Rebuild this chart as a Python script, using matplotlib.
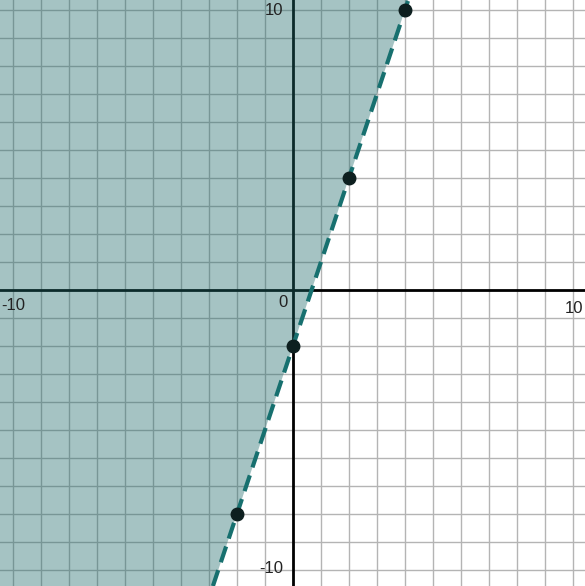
import numpy as np
import matplotlib.pyplot as plt

# points on the boundary line y = 3x - 2
pts_x = [-2, 0, 2, 4]
pts_y = [-8, -2, 4, 10]
slope = 3
intercept = -2

xmin, xmax = -10.46, 10.43
ymin, ymax = -10.57, 10.36

plt.rcParams['font.family'] = ['Liberation Sans', 'DejaVu Sans']

fig = plt.figure(figsize=(5.85, 5.86), dpi=100)
ax = fig.add_axes([0, 0, 1, 1])
ax.set_xlim(xmin, xmax)
ax.set_ylim(ymin, ymax)

# grid
for v in range(-10, 11):
    ax.axvline(v, color='#b4b4b4', lw=1, zorder=1)
    ax.axhline(v, color='#b4b4b4', lw=1, zorder=1)
ax.axhline(0, color='black', lw=2, zorder=2)
ax.axvline(0, color='black', lw=2, zorder=2)

# shaded half-plane y > 3x - 2
yy = np.array([ymin, ymax])
ax.fill_betweenx(yy, xmin, (yy - intercept) / slope, color='#1f6b6b', alpha=0.4, lw=0, zorder=3)

# boundary line
ax.plot((yy - intercept) / slope, yy, color='#17706f', lw=3, ls=(0, (4, 2)), zorder=4)
ax.plot(pts_x, pts_y, 'o', color='#0d1f1f', ms=9, zorder=5)

fs = 12
ax.text(-10.4, -0.55, '-10', fontsize=fs, ha='left', va='center', color='#222')
ax.text(10.38, -0.65, '10', fontsize=fs, ha='right', va='center', color='#222')
ax.text(-0.2, -0.45, '0', fontsize=fs, ha='right', va='center', color='#222')
ax.text(-0.35, 10.0, '10', fontsize=fs, ha='right', va='center', color='#222')
ax.text(-0.35, -9.95, '-10', fontsize=fs, ha='right', va='center', color='#222')

ax.axis('off')
fig.savefig('out.png', dpi=100)
